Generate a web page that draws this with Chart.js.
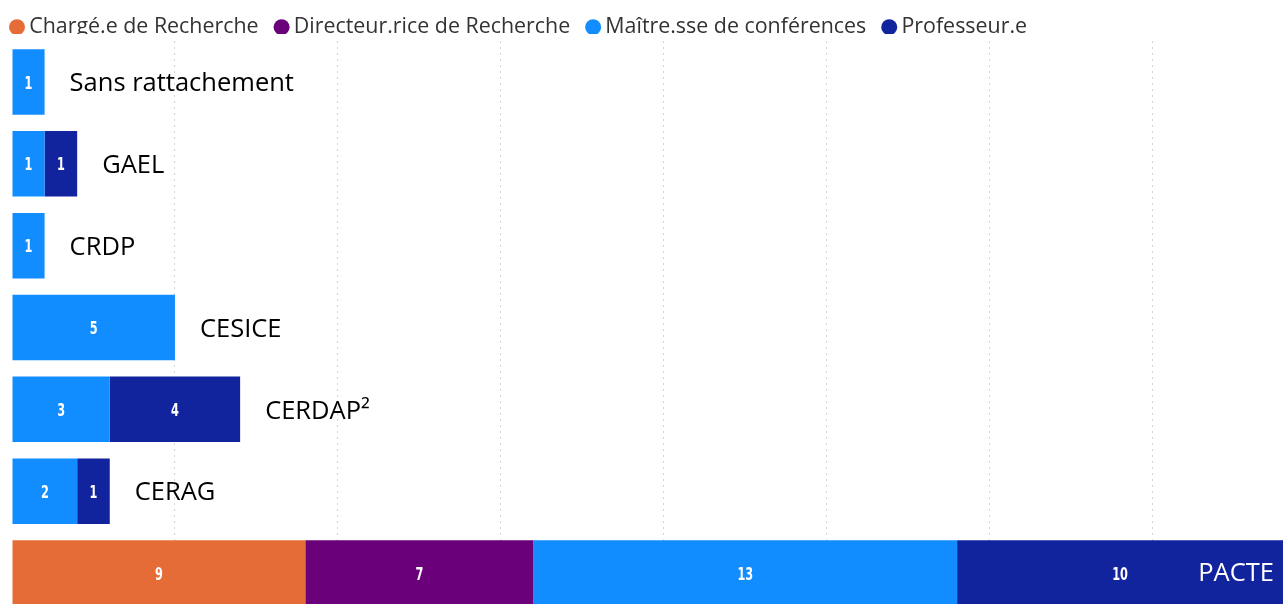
<!DOCTYPE html>
<html>
<head>
<meta charset="utf-8">
<script src="https://cdn.jsdelivr.net/npm/chart.js@4/dist/chart.umd.min.js"></script>
<style>
  html, body { margin: 0; padding: 0; background: #fff; overflow: hidden; }
  #wrap { width: 1285px; height: 614px; }
</style>
</head>
<body>
<div id="wrap"><canvas id="labosChart" width="1285" height="614"></canvas></div>
<script>
// categories (top to bottom)
const labos = ['Sans rattachement', 'GAEL', 'CRDP', 'CESICE', 'CERDAP²', 'CERAG', 'PACTE'];

// series, one value per labo (null = no bar)
const chargesRecherche   = [null, null, null, null, null, null, 9];
const directeursRecherche = [null, null, null, null, null, null, 7];
const maitresConferences = [1, 1, 1, 5, 3, 2, 13];
const professeurs        = [null, 1, null, null, 4, 1, 10];

const xTicks = [0, 5, 10, 15, 20, 25, 30, 35];

const legendPadding = 21.5;

// legend: fixed height so the bars start where they should, flush left / top
const legendTweak = {
    id: 'legendTweak',
    beforeLayout(chart) {
        const legend = chart.legend;
        if (!legend || legend._patched) return;
        const fit = legend.fit;
        legend.fit = function () {
            fit.call(this);
            this.height = 39;
        };
        legend._patched = true;
    },
    afterLayout(chart) {
        const legend = chart.legend;
        const w = legend.right - legend.left;
        const h = legend.bottom - legend.top;
        const top = 16.5 - legendPadding;
        legend.left = 15.5 - legendPadding;
        legend.right = legend.left + w;
        legend.top = top;
        legend.bottom = top + h;
    }
};

// write value in the middle of each segment + labo name after the bar
const barLabels = {
    id: 'barLabels',
    afterDatasetsDraw(chart) {
        const ctx = chart.ctx;
        const xScale = chart.scales.x;
        const yScale = chart.scales.y;
        const squeeze = 0.7;

        ctx.save();
        ctx.textAlign = 'center';
        ctx.textBaseline = 'middle';
        ctx.fillStyle = '#ffffff';
        ctx.font = 'bold 18px "DejaVu Sans Condensed", "DejaVu Sans", sans-serif';
        chart.data.datasets.forEach((ds, di) => {
            chart.getDatasetMeta(di).data.forEach((bar, i) => {
                if (ds.data[i] == null) return;
                const p = bar.getProps(['x', 'y', 'base']);
                ctx.save();
                ctx.translate((p.x + p.base) / 2, p.y + 2);
                ctx.scale(squeeze, 1);
                ctx.fillText(String(ds.data[i]), 0, 0);
                ctx.restore();
            });
        });

        ctx.font = '25.5px "Open Sans", sans-serif';
        labos.forEach((name, i) => {
            let total = 0;
            chart.data.datasets.forEach(ds => { total += ds.data[i] || 0; });
            const x = xScale.getPixelForValue(total);
            const y = yScale.getPixelForValue(i);
            const w = ctx.measureText(name).width;
            if (x + 25 + w > chart.chartArea.right) {
                ctx.textAlign = 'right';
                ctx.fillStyle = '#ffffff';
                ctx.fillText(name, x - 9, y + 1);
            } else {
                ctx.textAlign = 'left';
                ctx.fillStyle = '#000000';
                ctx.fillText(name, x + 25, y + 2);
            }
        });
        ctx.restore();
    }
};

const ctx = document.getElementById('labosChart').getContext('2d');
const labosChart = new Chart(ctx, {
    type: 'bar',
    data: {
        labels: labos,
        datasets: [
            { label: 'Chargé.e de Recherche', data: chargesRecherche, backgroundColor: '#E66C37' },
            { label: 'Directeur.rice de Recherche', data: directeursRecherche, backgroundColor: '#6B007B' },
            { label: 'Maître.sse de conférences', data: maitresConferences, backgroundColor: '#118DFF' },
            { label: 'Professeur.e', data: professeurs, backgroundColor: '#12239E' }
        ]
    },
    options: {
        indexAxis: 'y',
        responsive: false,
        animation: false,
        categoryPercentage: 0.8,
        barPercentage: 1,
        layout: { padding: { left: 12, right: 2, top: 2, bottom: 0 } },
        scales: {
            x: {
                stacked: true,
                min: 0,
                max: 39,
                afterBuildTicks: axis => { axis.ticks = xTicks.map(v => ({ value: v })); },
                ticks: { display: false },
                border: { display: false, dash: [2, 4] },
                grid: {
                    color: c => c.tick.value === 0 ? 'rgba(0,0,0,0)' : '#d6d6d6',
                    lineWidth: 1,
                    drawTicks: false
                }
            },
            y: {
                stacked: true,
                display: false
            }
        },
        plugins: {
            legend: {
                position: 'top',
                align: 'start',
                labels: {
                    usePointStyle: true,
                    pointStyle: 'circle',
                    boxWidth: 3,
                    boxHeight: 11.3,
                    padding: legendPadding,
                    color: '#333333',
                    font: { family: '"Open Sans", sans-serif', size: 21.4 }
                }
            },
            tooltip: { enabled: false }
        }
    },
    plugins: [legendTweak, barLabels]
});
</script>
</body>
</html>
